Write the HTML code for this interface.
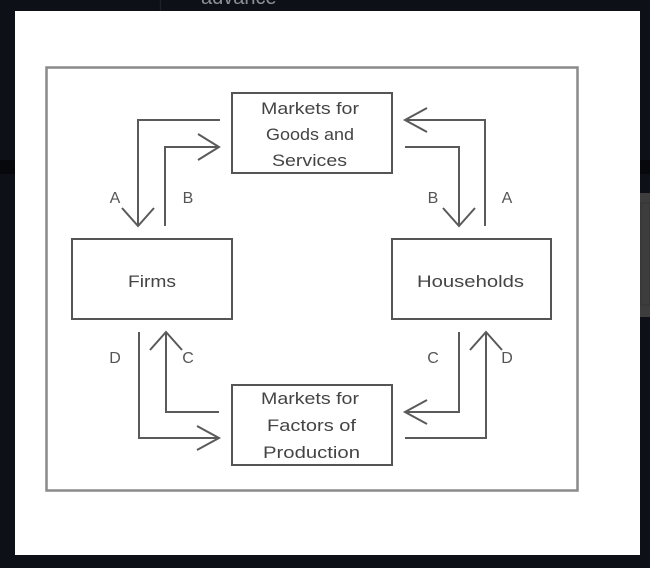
<!DOCTYPE html>
<html>
<head>
<meta charset="utf-8">
<style>
  html,body{margin:0;padding:0;background:#0d1016;}
  body{width:650px;height:568px;overflow:hidden;position:relative;}
  svg{position:absolute;left:0;top:0;}
</style>
</head>
<body>
<svg width="650" height="568" viewBox="0 0 650 568" xmlns="http://www.w3.org/2000/svg">
  <!-- dark backdrop details -->
  <rect x="0" y="0" width="650" height="568" fill="#0d1016"/>
  <rect x="0" y="160" width="650" height="14" fill="#06080c"/>
  <line x1="160.5" y1="0" x2="160.5" y2="12" stroke="#1d2028" stroke-width="1.5"/>
  <text x="201" y="4" font-family="Liberation Sans, sans-serif" font-size="20" fill="#8b8f96">advance</text>
  <rect x="638" y="193" width="12" height="124" fill="#3d3d3d"/>
  <rect x="641" y="203" width="9" height="102" fill="none" stroke="#333" stroke-width="1"/>

  <!-- white panel -->
  <rect x="15" y="11" width="625" height="544" fill="#ffffff"/>

  <!-- outer frame -->
  <rect x="46.5" y="67.5" width="531" height="423" fill="none" stroke="#8a8a8a" stroke-width="2.5"/>

  <!-- boxes -->
  <g fill="none" stroke="#555" stroke-width="2">
    <rect x="232" y="93" width="160" height="80"/>
    <rect x="72" y="239" width="160" height="80"/>
    <rect x="392" y="239" width="159" height="80"/>
    <rect x="232" y="385" width="160" height="80"/>
  </g>

  <!-- arrows -->
  <g fill="none" stroke="#5a5a5a" stroke-width="2" stroke-linejoin="miter">
    <!-- top-left A -->
    <polyline points="220,120 138,120 138,226"/>
    <polyline points="122,208 138,226 154,208"/>
    <!-- top-left B -->
    <polyline points="165,226 165,147 219,147"/>
    <polyline points="198,134 219,147 198,160"/>
    <!-- top-right A -->
    <polyline points="485,226 485,120 405,120"/>
    <polyline points="427,108 405,120 427,132"/>
    <!-- top-right B -->
    <polyline points="405,147 459,147 459,226"/>
    <polyline points="443,208 459,226 475,208"/>
    <!-- bottom-left D -->
    <polyline points="139,332 139,438 219,438"/>
    <polyline points="197,426 219,438 197,450"/>
    <!-- bottom-left C -->
    <polyline points="219,412 166,412 166,332"/>
    <polyline points="150,350 166,332 182,350"/>
    <!-- bottom-right C -->
    <polyline points="459,332 459,412 405,412"/>
    <polyline points="427,400 405,412 427,424"/>
    <!-- bottom-right D -->
    <polyline points="405,438 486,438 486,332"/>
    <polyline points="470,350 486,332 502,350"/>
  </g>

  <!-- box labels -->
  <g font-family="Liberation Sans, sans-serif" font-size="17" fill="#444" lengthAdjust="spacingAndGlyphs">
    <text x="261" y="114" textLength="98" lengthAdjust="spacingAndGlyphs">Markets for</text>
    <text x="266" y="140" textLength="88" lengthAdjust="spacingAndGlyphs">Goods and</text>
    <text x="272" y="166" textLength="75" lengthAdjust="spacingAndGlyphs">Services</text>

    <text x="128" y="287" textLength="48" lengthAdjust="spacingAndGlyphs">Firms</text>
    <text x="417" y="287" textLength="107" lengthAdjust="spacingAndGlyphs">Households</text>

    <text x="261" y="404" textLength="98" lengthAdjust="spacingAndGlyphs">Markets for</text>
    <text x="267" y="431" textLength="89" lengthAdjust="spacingAndGlyphs">Factors of</text>
    <text x="263" y="458" textLength="97" lengthAdjust="spacingAndGlyphs">Production</text>
  </g>

  <!-- flow letters -->
  <g font-family="Liberation Sans, sans-serif" font-size="16" fill="#555" text-anchor="middle">
    <text x="115" y="203">A</text>
    <text x="188" y="203">B</text>
    <text x="433" y="203">B</text>
    <text x="507" y="203">A</text>
    <text x="115" y="363">D</text>
    <text x="188" y="363">C</text>
    <text x="433" y="363">C</text>
    <text x="507" y="363">D</text>
  </g>
</svg>
</body>
</html>
